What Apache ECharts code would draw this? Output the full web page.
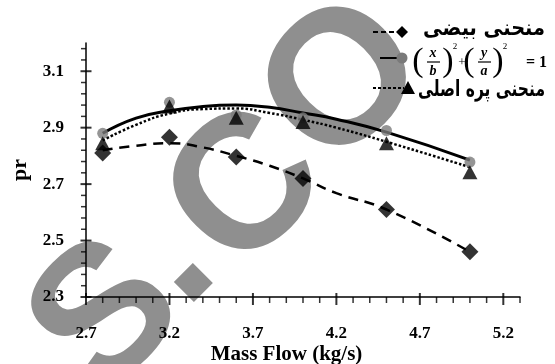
<!DOCTYPE html>
<html>
<head>
<meta charset="utf-8">
<script src="https://cdn.jsdelivr.net/npm/echarts@6/dist/echarts.min.js"></script>
<style>
  html, body { margin: 0; padding: 0; background: #fff; }
  #chart { width: 555px; height: 364px; }
</style>
</head>
<body>
<div id="chart"></div>
<script>
// Measured operating points (mass flow in kg/s)
const massFlow = [2.8, 3.2, 3.6, 4.0, 4.5, 5.0];
const prEllipse = [2.81, 2.866, 2.796, 2.72, 2.61, 2.46];      // منحنی بیضی (diamonds)
const prFormula = [2.88, 2.99, 2.945, 2.935, 2.89, 2.778];     // (x/b)^2+(y/a)^2=1 (circles)
const prBlade = [2.845, 2.975, 2.935, 2.92, 2.845, 2.742];     // منحنی پره اصلی (triangles)

// Fitted curves, sampled along mass flow
const curveX = [2.8, 3.0, 3.2, 3.4, 3.6, 3.8, 4.0, 4.2, 4.5, 5.0];
const curveEllipse = [2.82, 2.836, 2.845, 2.83, 2.80, 2.765, 2.72, 2.668, 2.61, 2.46];
const curveFormula = [2.88, 2.934, 2.96, 2.975, 2.98, 2.972, 2.952, 2.93, 2.884, 2.785];
const curveBlade = [2.855, 2.91, 2.95, 2.966, 2.968, 2.952, 2.928, 2.90, 2.85, 2.76];

// Axis ranges and tick values
const xRange = [2.7, 5.3];
const yRange = [2.3, 3.2];
const xMajorTicks = [2.7, 3.2, 3.7, 4.2, 4.7, 5.2];
const xMinorTicks = [2.8, 2.9, 3.0, 3.1, 3.3, 3.4, 3.5, 3.6, 3.8, 3.9, 4.0, 4.1,
                     4.3, 4.4, 4.5, 4.6, 4.8, 4.9, 5.0, 5.1, 5.3];
const yMajorTicks = [2.3, 2.5, 2.7, 2.9, 3.1];
const yMinorTicks = [2.34, 2.38, 2.42, 2.46, 2.54, 2.58, 2.62, 2.66, 2.74, 2.78,
                     2.82, 2.86, 2.94, 2.98, 3.02, 3.06, 3.14, 3.18];

const legendNames = ['منحنی بیضی', 'منحنی پره اصلی'];

const pairs = (xs, ys) => xs.map((x, i) => [x, ys[i]]);
const serif = '"Liberation Serif", "Times New Roman", serif';
const arabic = '"DejaVu Sans", sans-serif';
const labelFont = { fontFamily: serif, fontWeight: 'bold', fontSize: 17, color: '#000' };

// Tick marks as thin rectangles sitting on the axis lines
function tickMarks(points, size, offset) {
  return {
    type: 'scatter', silent: true, clip: false, z: 6,
    symbol: 'rect', symbolSize: size, symbolOffset: offset,
    data: points, itemStyle: { color: '#000' }
  };
}

// Arabic legend labels: measure the shaped string and fit it into its slot
const measureCtx = document.createElement('canvas').getContext('2d');
function fittedLabel(text, right, cy, width, size) {
  const font = 'bold ' + size + 'px ' + arabic;
  measureCtx.font = font;
  const w = measureCtx.measureText(text).width;
  return {
    type: 'group', x: right - width, y: cy, scaleX: width / w, z: 20,
    children: [{ type: 'text', z: 20, style: { text: text, x: 0, y: 0, align: 'left', verticalAlign: 'middle', font: font, fill: '#000' } }]
  };
}

// Background watermark letters, laid out along a 45° baseline
const wmFont = 'bold 190px "Liberation Sans", Arial, sans-serif';
function wmLetter(ch, a, y) {
  return { type: 'text', z: -10, silent: true, style: { text: ch, x: a, y: y, align: 'center', verticalAlign: 'middle', font: wmFont, fill: '#8f8f8f' } };
}

function txt(t, x, y, font, align) {
  return { type: 'text', z: 20, style: { text: t, x: x, y: y, align: align || 'center', verticalAlign: 'middle', font: font, fill: '#000' } };
}
function seg(x1, y1, x2, y2, w, dash) {
  return { type: 'line', z: 20, shape: { x1: x1, y1: y1, x2: x2, y2: y2 }, style: { stroke: '#000', lineWidth: w, lineDash: dash || null } };
}

const overlay = [
  {
    type: 'group', x: 191, y: 280, rotation: Math.PI / 4, z: -10, silent: true,
    children: [
      wmLetter('S', -86, -30),
      wmLetter('.', 0, -35),
      wmLetter('C', 103, -21),
      wmLetter('O', 248, -28)
    ]
  },
  // legend: diamonds
  seg(373, 32, 400, 32, 2, [5, 3]),
  { type: 'polygon', z: 20, shape: { points: [[402, 26], [408, 32], [402, 38], [396, 32]] }, style: { fill: '#000' } },
  fittedLabel(legendNames[0], 545, 29, 122, 22),
  // legend: circles with the formula
  seg(380, 58, 400, 58, 2),
  { type: 'circle', z: 20, shape: { cx: 402, cy: 58, r: 5.5 }, style: { fill: '#7a7a7a' } },
  txt('(', 418, 62, '34px ' + serif),
  txt('x', 433, 53, 'italic bold 14px ' + serif),
  seg(427, 62, 440, 62, 1.2),
  txt('b', 433, 71, 'italic bold 14px ' + serif),
  txt(')', 448, 62, '34px ' + serif),
  txt('2', 455, 47, '9px ' + serif),
  txt('+', 462, 63, '13px ' + serif),
  txt('(', 469, 62, '34px ' + serif),
  txt('y', 484, 53, 'italic bold 14px ' + serif),
  seg(478, 62, 491, 62, 1.2),
  txt('a', 484, 71, 'italic bold 14px ' + serif),
  txt(')', 498, 62, '34px ' + serif),
  txt('2', 505, 47, '9px ' + serif),
  txt('= 1', 547, 63, 'bold 16px ' + serif, 'right'),
  // legend: triangles
  seg(373, 88, 404, 88, 2, [3, 2]),
  { type: 'polygon', z: 20, shape: { points: [[408, 81], [415, 94], [401, 94]] }, style: { fill: '#000' } },
  fittedLabel(legendNames[1], 545, 90, 127, 22)
];

const chart = echarts.init(document.getElementById('chart'), null, { renderer: 'canvas' });

const option = {
  animation: false,
  backgroundColor: '#fff',
  grid: { left: 86, right: 35, top: 43, bottom: 67, outerBoundsMode: 'none', containLabel: false },
  xAxis: {
    type: 'value', min: xRange[0], max: xRange[1], interval: 0.5,
    axisLine: { show: true, lineStyle: { color: '#000', width: 1.5 } },
    axisTick: { show: false }, splitLine: { show: false },
    axisLabel: Object.assign({ show: true, margin: 28, showMaxLabel: false, formatter: v => v.toFixed(1) }, labelFont),
    name: 'Mass Flow (kg/s)', nameLocation: 'middle', nameGap: 47, nameMoveOverlap: false,
    nameTextStyle: { fontFamily: serif, fontWeight: 'bold', fontSize: 21, color: '#000', padding: [0, 33, 0, 0] }
  },
  yAxis: {
    type: 'value', min: yRange[0], max: yRange[1], interval: 0.2,
    axisLine: { show: true, lineStyle: { color: '#000', width: 1.5 } },
    axisTick: { show: false }, splitLine: { show: false },
    axisLabel: Object.assign({ show: true, margin: 22, showMaxLabel: false, formatter: v => v.toFixed(1) }, labelFont),
    name: 'pr', nameLocation: 'middle', nameGap: 55, nameRotate: 90, nameMoveOverlap: false,
    nameTextStyle: { fontFamily: serif, fontWeight: 'bold', fontSize: 22, color: '#000' }
  },
  series: [
    tickMarks(xMajorTicks.map(v => [v, yRange[0]]), [2, 12], [0, 2]),
    tickMarks(xMinorTicks.map(v => [v, yRange[0]]), [1.5, 6], [0, 3]),
    tickMarks(yMajorTicks.map(v => [xRange[0], v]), [11, 2], [0, 0]),
    tickMarks(yMinorTicks.map(v => [xRange[0], v]), [5, 1.5], [-2.5, 0]),
    {
      type: 'line', smooth: true, symbol: 'none', z: 3,
      data: pairs(curveX, curveEllipse),
      lineStyle: { color: '#000', width: 2.5, type: [10, 7] }
    },
    {
      type: 'line', smooth: true, symbol: 'none', z: 3,
      data: pairs(curveX, curveFormula),
      lineStyle: { color: '#000', width: 3, type: 'solid' }
    },
    {
      type: 'line', smooth: true, symbol: 'none', z: 3,
      data: pairs(curveX, curveBlade),
      lineStyle: { color: '#000', width: 2.5, type: [2.5, 2] }
    },
    {
      type: 'scatter', symbol: 'diamond', symbolSize: [17, 17], z: 4,
      data: pairs(massFlow, prEllipse), itemStyle: { color: '#000' }
    },
    {
      type: 'scatter', symbol: 'circle', symbolSize: 11, z: 4,
      data: pairs(massFlow, prFormula), itemStyle: { color: '#7a7a7a' }
    },
    {
      type: 'scatter', symbol: 'triangle', symbolSize: [15, 14], z: 5,
      data: pairs(massFlow, prBlade), itemStyle: { color: '#000' }
    }
  ],
  graphic: overlay
};

chart.setOption(option);
</script>
</body>
</html>
